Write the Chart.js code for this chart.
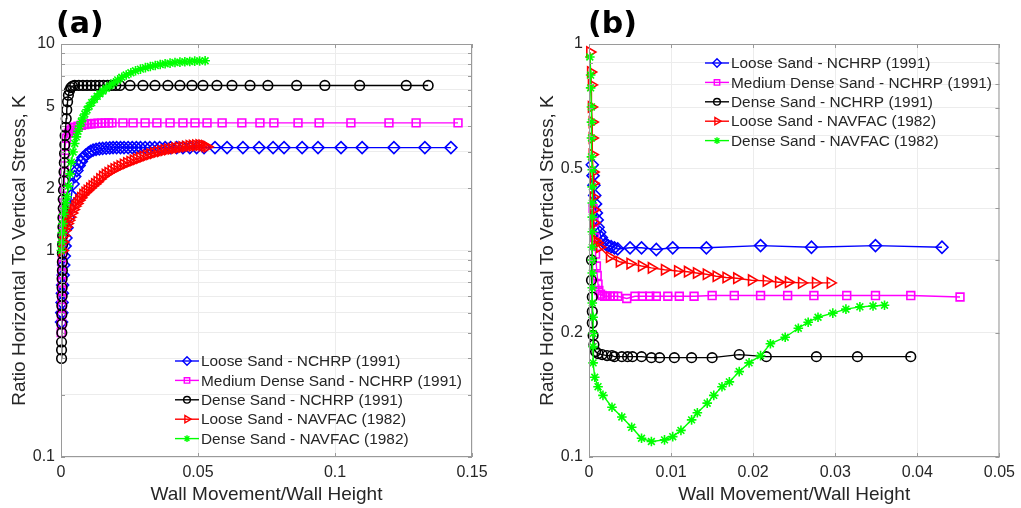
<!DOCTYPE html>
<html>
<head>
<meta charset="utf-8">
<script src="https://cdn.jsdelivr.net/npm/chart.js@4.4.1/dist/chart.umd.min.js"></script>
<style>
  html, body { margin: 0; padding: 0; background: #fff; }
  #wrap { position: relative; width: 1021px; height: 508px; overflow: hidden; }
  canvas { position: absolute; top: 0; }
  #ca { left: 0; }
  #cb { left: 528px; }
  .tag { position: absolute; top: 8px; font: bold 30px/30px "DejaVu Sans", sans-serif; color: #000; }
</style>
</head>
<body>
<div id="wrap">
  <canvas id="ca" width="528" height="508"></canvas>
  <canvas id="cb" width="493" height="508"></canvas>
  <div class="tag" style="left:56px">(a)</div>
  <div class="tag" style="left:588px">(b)</div>
</div>
<script>
// series names (legend order)
var names = ['Loose Sand - NCHRP (1991)', 'Medium Dense Sand - NCHRP (1991)', 'Dense Sand - NCHRP (1991)',
             'Loose Sand - NAVFAC (1982)', 'Dense Sand - NAVFAC (1982)'];

// ---- panel (a) : [wall movement/height, K]
var aLooseNchrp = [[0.0002,0.45],[0.0003,0.5],[0.0004,0.56],[0.0005,0.62],[0.0006,0.68],[0.0008,0.76],[0.001,0.85],
  [0.0012,0.94],[0.0015,1.05],[0.0018,1.15],[0.0022,1.29],[0.0027,1.45],[0.0033,1.61],[0.0038,1.85],[0.0044,2.1],
  [0.005,2.28],[0.0058,2.44],[0.0066,2.58],[0.0074,2.7],[0.008,2.81],[0.009,2.9],[0.01,2.97],[0.0108,3.02],
  [0.0117,3.06],[0.0128,3.09],[0.014,3.11],[0.0152,3.12],[0.0165,3.13],[0.0178,3.14],[0.019,3.15],[0.0203,3.15],
  [0.0217,3.15],[0.023,3.15],[0.0245,3.15],[0.026,3.15],[0.0275,3.15],[0.029,3.15],[0.0307,3.15],[0.0324,3.15],
  [0.0342,3.15],[0.036,3.15],[0.038,3.15],[0.04,3.15],[0.0422,3.15],[0.0445,3.15],[0.047,3.15],[0.0495,3.15],
  [0.0522,3.15],[0.0562,3.15],[0.0606,3.15],[0.0664,3.15],[0.0723,3.15],[0.0774,3.15],[0.0814,3.15],[0.088,3.15],
  [0.0938,3.15],[0.1022,3.15],[0.1099,3.15],[0.1215,3.15],[0.1328,3.15],[0.1423,3.15]];
var aMedNchrp = [[0.0001,0.40],[0.0002,0.44],[0.0002,0.48],[0.0003,0.53],[0.0003,0.58],[0.0003,0.64],[0.0004,0.70],
  [0.0004,0.77],[0.0005,0.85],[0.0005,0.93],[0.0006,1.02],[0.0007,1.15],[0.0008,1.3],[0.0009,1.5],[0.001,1.7],
  [0.0011,2.0],[0.0012,2.4],[0.0013,2.8],[0.0015,3.2],[0.002,3.5],[0.0027,3.7],[0.0033,3.8],[0.004,3.88],[0.005,3.95],
  [0.0062,4.0],[0.0074,4.04],[0.0086,4.07],[0.0098,4.09],[0.011,4.11],[0.0122,4.12],[0.0135,4.13],[0.0148,4.14],
  [0.0161,4.15],[0.0174,4.15],[0.0186,4.15],[0.0226,4.15],[0.0263,4.15],[0.0307,4.15],[0.035,4.15],[0.0398,4.15],
  [0.0445,4.15],[0.0489,4.15],[0.0533,4.15],[0.0588,4.15],[0.066,4.15],[0.0726,4.15],[0.0777,4.15],[0.0865,4.15],
  [0.0942,4.15],[0.1058,4.15],[0.1197,4.15],[0.1296,4.15],[0.1449,4.15]];
var aDenseNchrp = [[0.0002,0.30],[0.0002,0.33],[0.0002,0.36],[0.0003,0.40],[0.0003,0.44],[0.0003,0.49],[0.0003,0.54],
  [0.0004,0.6],[0.0004,0.66],[0.0004,0.73],[0.0005,0.8],[0.0005,0.88],[0.0005,0.97],[0.0006,1.07],[0.0006,1.18],
  [0.0007,1.3],[0.0007,1.44],[0.0008,1.6],[0.0008,1.77],[0.0009,1.96],[0.001,2.17],[0.0011,2.4],[0.0012,2.66],
  [0.0013,2.95],[0.0014,3.25],[0.0015,3.6],[0.0017,3.95],[0.0019,4.35],[0.0021,4.8],[0.0024,5.25],[0.0027,5.65],
  [0.0031,5.95],[0.0036,6.15],[0.0042,6.25],[0.005,6.3],[0.0065,6.3],[0.008,6.3],[0.0095,6.3],[0.011,6.3],
  [0.0125,6.3],[0.014,6.3],[0.0155,6.3],[0.017,6.3],[0.0185,6.3],[0.02,6.3],[0.0215,6.3],[0.0252,6.3],[0.0299,6.3],
  [0.0343,6.3],[0.039,6.3],[0.0434,6.3],[0.0478,6.3],[0.0518,6.3],[0.0569,6.3],[0.0624,6.3],[0.069,6.3],
  [0.0755,6.3],[0.086,6.3],[0.0963,6.3],[0.109,6.3],[0.126,6.3],[0.134,6.3]];
var aLooseNavfac = [[0.0005,1.0],[0.0007,1.1],[0.001,1.18],[0.0014,1.25],[0.0018,1.3],[0.0023,1.35],[0.0028,1.4],
  [0.0033,1.45],[0.0039,1.52],[0.0045,1.58],[0.0051,1.64],[0.0058,1.69],[0.0065,1.75],[0.0072,1.8],[0.008,1.86],
  [0.0088,1.91],[0.0096,1.95],[0.0105,2.0],[0.0114,2.05],[0.0123,2.1],[0.0132,2.15],[0.0142,2.22],[0.0152,2.28],
  [0.0162,2.33],[0.0172,2.38],[0.0183,2.43],[0.0194,2.48],[0.0205,2.52],[0.0216,2.56],[0.0228,2.61],[0.024,2.65],
  [0.0252,2.69],[0.0264,2.73],[0.0276,2.77],[0.0288,2.81],[0.03,2.85],[0.0312,2.89],[0.0325,2.93],[0.0338,2.96],
  [0.0351,3.0],[0.0364,3.03],[0.0377,3.06],[0.039,3.09],[0.0403,3.11],[0.0416,3.13],[0.0429,3.15],[0.0442,3.17],
  [0.0455,3.19],[0.0468,3.21],[0.048,3.22],[0.0492,3.23],[0.0504,3.24],[0.0515,3.23],[0.0525,3.21],[0.0533,3.18]];
var aDenseNavfac = [[0.0001,1.0],[0.0003,1.1],[0.0005,1.22],[0.0007,1.35],[0.001,1.5],[0.0013,1.6],[0.0017,1.7],
  [0.0022,1.82],[0.0027,2.05],[0.0033,2.35],[0.0038,2.68],[0.0044,3.0],[0.005,3.3],[0.0056,3.55],[0.0062,3.78],
  [0.0068,4.0],[0.0074,4.2],[0.008,4.38],[0.0087,4.58],[0.0095,4.8],[0.0103,5.0],[0.0112,5.2],[0.0122,5.4],
  [0.0132,5.58],[0.0142,5.74],[0.0153,5.92],[0.0165,6.1],[0.0178,6.28],[0.0192,6.48],[0.0207,6.7],[0.0222,6.9],
  [0.0238,7.08],[0.0255,7.26],[0.0272,7.42],[0.029,7.56],[0.0308,7.68],[0.0326,7.78],[0.0344,7.87],[0.0362,7.95],
  [0.038,8.02],[0.0398,8.08],[0.0416,8.13],[0.0434,8.17],[0.0452,8.2],[0.047,8.23],[0.0488,8.26],[0.0506,8.28],
  [0.0526,8.3]];

// ---- panel (b)
var bLooseNchrp = [[0.0004,0.51],[0.0005,0.48],[0.0006,0.455],[0.0007,0.43],[0.0008,0.41],[0.0009,0.39],[0.001,0.375],
  [0.0011,0.36],[0.0013,0.35],[0.0015,0.34],[0.0017,0.333],[0.002,0.328],[0.0023,0.325],[0.0027,0.323],[0.0031,0.321],
  [0.0035,0.319],[0.005,0.321],[0.0064,0.321],[0.0082,0.318],[0.0102,0.321],[0.0143,0.321],[0.0209,0.325],
  [0.0271,0.322],[0.0349,0.325],[0.043,0.322]];
var bMedNchrp = [[0.0005,0.40],[0.0006,0.37],[0.0007,0.34],[0.0008,0.31],[0.0009,0.29],[0.001,0.275],[0.0011,0.262],
  [0.0012,0.253],[0.0014,0.248],[0.0016,0.246],[0.0019,0.245],[0.0022,0.245],[0.0026,0.245],[0.003,0.245],
  [0.0035,0.245],[0.0046,0.242],[0.0056,0.245],[0.0065,0.245],[0.0074,0.245],[0.0082,0.245],[0.0096,0.245],
  [0.011,0.245],[0.0128,0.245],[0.015,0.246],[0.0177,0.246],[0.0209,0.246],[0.0242,0.246],[0.0274,0.246],
  [0.0314,0.246],[0.0349,0.246],[0.0392,0.246],[0.0452,0.244]];
var bDenseNchrp = [[0.0003,0.30],[0.0003,0.268],[0.0004,0.244],[0.0004,0.225],[0.0004,0.211],[0.0005,0.197],
  [0.0006,0.187],[0.0008,0.18],[0.0011,0.178],[0.0016,0.177],[0.0022,0.176],[0.0028,0.176],[0.0031,0.175],
  [0.004,0.175],[0.0047,0.175],[0.0053,0.175],[0.0064,0.175],[0.0076,0.174],[0.0086,0.174],[0.0104,0.174],
  [0.0125,0.174],[0.015,0.174],[0.0183,0.177],[0.0216,0.175],[0.0277,0.175],[0.0327,0.175],[0.0392,0.175]];
var bLooseNavfac = [[0.0001,0.956],[0.0002,0.855],[0.0003,0.796],[0.0003,0.704],[0.0004,0.647],[0.0004,0.592],
  [0.0004,0.54],[0.0005,0.49],[0.0005,0.46],[0.0005,0.426],[0.0006,0.397],[0.0006,0.369],[0.0007,0.335],
  [0.001,0.33],[0.0013,0.322],[0.0025,0.305],[0.0037,0.297],[0.005,0.294],[0.0064,0.29],[0.0076,0.287],
  [0.0092,0.284],[0.0108,0.282],[0.012,0.281],[0.0131,0.279],[0.0143,0.277],[0.0155,0.274],[0.0167,0.272],
  [0.018,0.271],[0.0198,0.268],[0.0216,0.267],[0.0231,0.265],[0.0243,0.265],[0.0259,0.264],[0.0276,0.264],
  [0.0294,0.264]];
var bDenseNavfac = [[0.0001,0.93],[0.0002,0.841],[0.0002,0.783],[0.0003,0.704],[0.0003,0.647],[0.0003,0.592],
  [0.0003,0.533],[0.0004,0.496],[0.0004,0.451],[0.0004,0.412],[0.0004,0.381],[0.0004,0.351],[0.0004,0.322],
  [0.0004,0.30],[0.0004,0.279],[0.0004,0.257],[0.0004,0.236],[0.0005,0.218],[0.0005,0.199],[0.0005,0.185],
  [0.0005,0.169],[0.0007,0.156],[0.0011,0.148],[0.0017,0.141],[0.0028,0.132],[0.004,0.125],[0.0052,0.118],
  [0.0064,0.111],[0.0076,0.109],[0.0092,0.11],[0.0102,0.112],[0.0112,0.116],[0.0125,0.123],[0.0132,0.128],
  [0.0144,0.135],[0.0152,0.141],[0.0162,0.148],[0.0171,0.152],[0.0183,0.161],[0.0195,0.169],[0.0209,0.176],
  [0.0221,0.188],[0.0239,0.195],[0.0255,0.205],[0.0267,0.212],[0.0279,0.218],[0.0297,0.223],[0.0313,0.228],
  [0.033,0.231],[0.0346,0.232],[0.036,0.233]];

// ticks
var aXTicks = [0, 0.05, 0.1, 0.15];
var bXTicks = [0, 0.01, 0.02, 0.03, 0.04, 0.05];
var aYGrid = [0.1,0.2,0.3,0.4,0.5,0.6,0.7,0.8,0.9,1,2,3,4,5,6,7,8,9,10];
var bYGrid = [0.1,0.2,0.3,0.4,0.5,0.6,0.7,0.8,0.9,1];
var aYLabels = [0.1, 1, 2, 5, 10];
var bYLabels = [0.1, 0.2, 0.5, 1];

var FONT = '"Liberation Sans", Arial, sans-serif';
var TXT = '#262626';
var GRID = '#ececec';
// marker styles per series (same order as names)
var styles = [
  { color: '#0000ff', point: 'rectRot', r: 6, rot: 0 },
  { color: '#ff00ff', point: 'rect', r: 5.5, rot: 0 },
  { color: '#000000', point: 'circle', r: 4.8, rot: 0 },
  { color: '#ff0000', point: 'triangle', r: 6, rot: 90 },
  { color: '#00ff00', point: 'star', r: 4.8, rot: 0 }
];

// box, inward ticks and the legend, drawn like the matlab figure
var matlabBox = {
  id: 'matlabBox',
  afterDraw: function(chart, args, opts) {
    var ctx = chart.ctx, a = chart.chartArea;
    var xs = chart.scales.x, ys = chart.scales.y;
    ctx.save();
    ctx.strokeStyle = '#9a9a9a';
    ctx.lineWidth = 1;
    ctx.strokeRect(a.left + 0.5, a.top + 0.5, a.right - a.left - 1, a.bottom - a.top - 1);
    ctx.beginPath();
    opts.yGrid.forEach(function(v) {
      var y = Math.round(ys.getPixelForValue(v)) + 0.5;
      ctx.moveTo(a.left, y); ctx.lineTo(a.left + 4, y);
      ctx.moveTo(a.right, y); ctx.lineTo(a.right - 4, y);
    });
    opts.xTicks.forEach(function(v) {
      var x = Math.round(xs.getPixelForValue(v)) + 0.5;
      ctx.moveTo(x, a.bottom); ctx.lineTo(x, a.bottom - 4);
      ctx.moveTo(x, a.top); ctx.lineTo(x, a.top + 4);
    });
    ctx.stroke();

    // legend
    var lx = opts.legendX, ly = opts.legendY;
    ctx.font = '15.4px ' + FONT;
    ctx.textBaseline = 'middle';
    ctx.textAlign = 'left';
    for (var i = 0; i < names.length; i++) {
      var s = styles[i], y = ly + i * 19.4;
      ctx.strokeStyle = s.color;
      ctx.lineWidth = 1.4;
      ctx.beginPath(); ctx.moveTo(lx, y); ctx.lineTo(lx + 24, y); ctx.stroke();
      ctx.fillStyle = 'rgba(0,0,0,0)';
      Chart.helpers.drawPoint(ctx, { pointStyle: s.point, radius: s.r * 0.7, rotation: s.rot, borderWidth: 1.4 }, lx + 12, y);
      ctx.fillStyle = TXT;
      ctx.fillText(names[i], lx + 26, y + 1);
    }
    ctx.restore();
  }
};

function makeChart(id, series, xMax, xTicks, yMax, yGrid, yLabels, padRight, legendX, legendY) {
  var datasets = series.map(function(pts, i) {
    var s = styles[i];
    return {
      label: names[i],
      data: pts.map(function(p) { return { x: p[0], y: p[1] }; }),
      borderColor: s.color,
      backgroundColor: s.color,
      borderWidth: 1.4,
      pointStyle: s.point,
      pointRadius: s.r,
      pointRotation: s.rot,
      pointBorderColor: s.color,
      pointBackgroundColor: 'rgba(0,0,0,0)',
      pointBorderWidth: 1.6,
      fill: false,
      tension: 0,
      clip: false,
      order: 5 - i
    };
  });
  return new Chart(document.getElementById(id), {
    type: 'line',
    data: { datasets: datasets },
    plugins: [matlabBox],
    options: {
      responsive: false,
      animation: false,
      devicePixelRatio: 1,
      layout: { padding: { left: 0, top: 44, right: padRight, bottom: 0 } },
      plugins: {
        legend: { display: false },
        tooltip: { enabled: false },
        matlabBox: { xTicks: xTicks, yGrid: yGrid, legendX: legendX, legendY: legendY }
      },
      scales: {
        x: {
          type: 'linear', min: 0, max: xMax,
          afterBuildTicks: function(sc) { sc.ticks = xTicks.map(function(v) { return { value: v }; }); },
          afterFit: function(sc) { sc.height = 51; },
          ticks: { font: { size: 16, family: FONT }, color: TXT, padding: 6, maxRotation: 0, autoSkip: false,
                   callback: function(v) { return String(v); } },
          grid: { color: GRID, drawTicks: false },
          border: { display: false },
          title: { display: true, text: 'Wall Movement/Wall Height', color: TXT,
                   font: { size: 19, family: FONT }, padding: { top: 0, bottom: 2 } }
        },
        y: {
          type: 'logarithmic', min: 0.1, max: yMax,
          afterBuildTicks: function(sc) { sc.ticks = yGrid.map(function(v) { return { value: v }; }); },
          afterFit: function(sc) { sc.width = 61; },
          ticks: { font: { size: 16, family: FONT }, color: TXT, padding: 6, autoSkip: false,
                   callback: function(v) { return yLabels.indexOf(v) >= 0 ? String(v) : ''; } },
          grid: { color: GRID, drawTicks: false },
          border: { display: false },
          title: { display: true, text: 'Ratio Horizontal To Vertical Stress, K', color: TXT,
                   font: { size: 19, family: FONT }, padding: { top: 8, bottom: 0 } }
        }
      }
    }
  });
}

makeChart('ca', [aLooseNchrp, aMedNchrp, aDenseNchrp, aLooseNavfac, aDenseNavfac],
  0.15, aXTicks, 10, aYGrid, aYLabels, 56, 175, 361);
makeChart('cb', [bLooseNchrp, bMedNchrp, bDenseNchrp, bLooseNavfac, bDenseNavfac],
  0.05, bXTicks, 1, bYGrid, bYLabels, 18, 177, 63);
</script>
</body>
</html>
